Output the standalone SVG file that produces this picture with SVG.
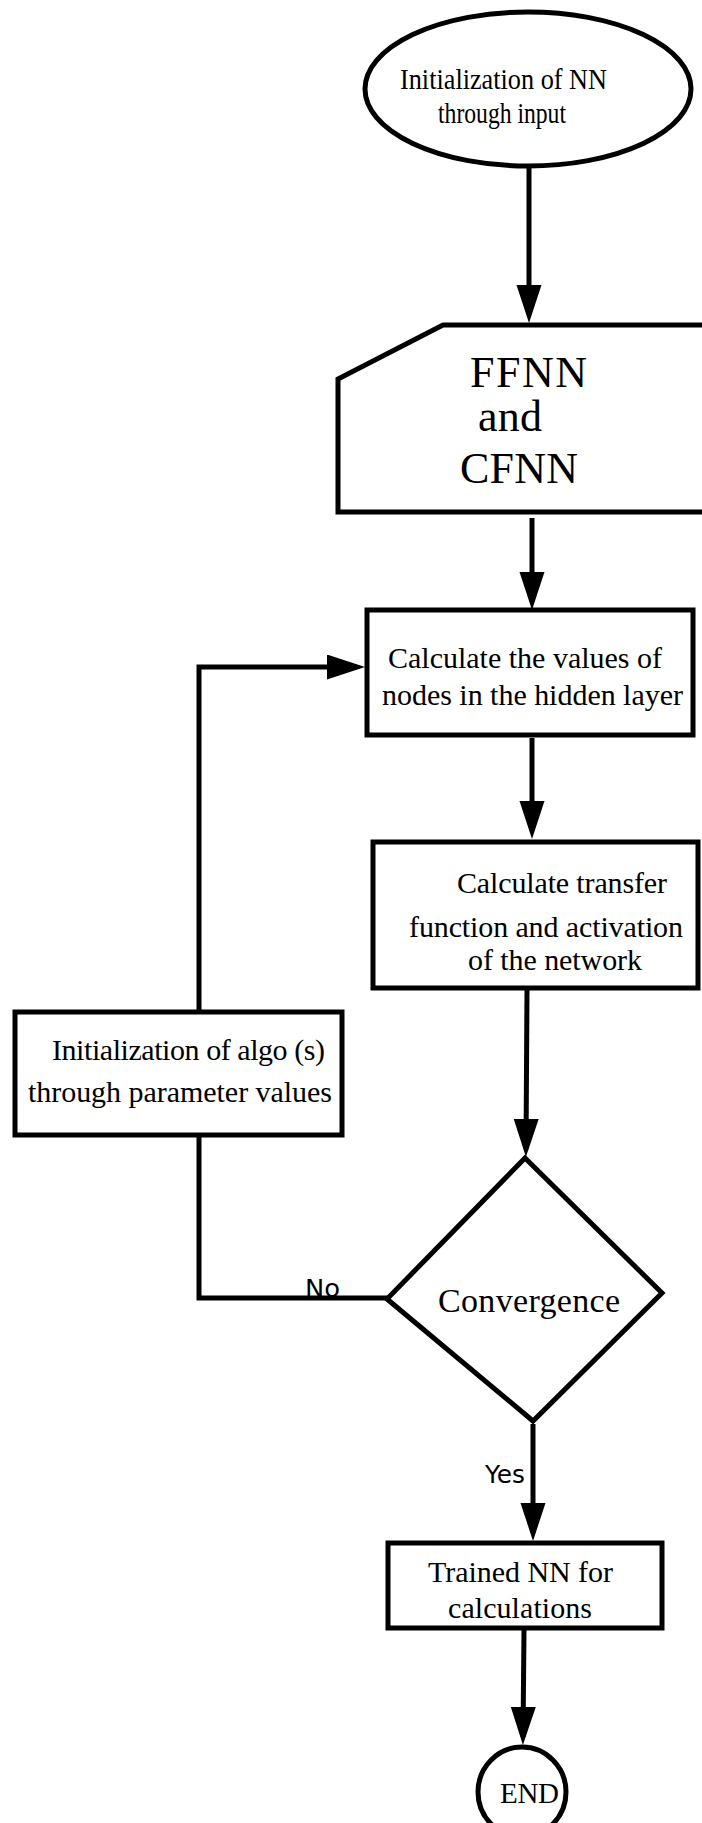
<svg xmlns="http://www.w3.org/2000/svg" width="702" height="1823" viewBox="0 0 702 1823">
<style>
.shape{fill:#fff;stroke:#000;stroke-width:5;stroke-linejoin:miter}
.conn{fill:none;stroke:#000;stroke-width:5}
.t{font-family:"Liberation Serif","Times New Roman",serif;font-size:30px;fill:#000}
.lbl{font-family:"DejaVu Sans","Liberation Sans",sans-serif;font-size:24px;fill:#000}
</style>
<defs>
<marker id="ah" markerUnits="userSpaceOnUse" markerWidth="40" markerHeight="26" refX="30" refY="12.5" orient="auto">
<path d="M0,0 L38,12.5 L0,25 z" fill="#000"/>
</marker>
</defs>
<rect width="702" height="1823" fill="#fff"/>

<g id="n-start">
<ellipse class="shape" cx="528" cy="89" rx="163" ry="77"/>
<text class="t" x="400" y="89" textLength="207" lengthAdjust="spacingAndGlyphs">Initialization of NN</text>
<text class="t" x="438" y="123" textLength="128" lengthAdjust="spacingAndGlyphs">through input</text>
</g>

<g id="n-ffnn">
<path class="shape" d="M710,325 L443,325 L338,379 L338,512 L710,512"/>
<text class="t" x="470" y="387" style="font-size:44px" textLength="117">FFNN</text>
<text class="t" x="478" y="431" style="font-size:44px" textLength="64">and</text>
<text class="t" x="460" y="483" style="font-size:44px" textLength="118">CFNN</text>
</g>

<g id="n-hidden">
<rect class="shape" x="367" y="610" width="326" height="125"/>
<text class="t" x="388" y="668" textLength="274">Calculate the values of</text>
<text class="t" x="382" y="705" textLength="301">nodes in the hidden layer</text>
</g>

<g id="n-transfer">
<rect class="shape" x="373" y="842" width="325" height="146"/>
<text class="t" x="457" y="893" textLength="210">Calculate transfer</text>
<text class="t" x="409" y="937" textLength="274">function and activation</text>
<text class="t" x="468" y="970" textLength="174">of the network</text>
</g>

<g id="n-algo">
<rect class="shape" x="15" y="1012" width="327" height="123"/>
<text class="t" x="52" y="1060" textLength="273">Initialization of algo (s)</text>
<text class="t" x="28" y="1102" textLength="304">through parameter values</text>
</g>

<g id="n-conv">
<polygon class="shape" points="525,1158 662,1293 533,1421 387,1299"/>
<text class="t" x="438" y="1312" style="font-size:34px" textLength="182">Convergence</text>
</g>

<g id="n-trained">
<rect class="shape" x="388" y="1543" width="274" height="85"/>
<text class="t" x="428" y="1582" textLength="185">Trained NN for</text>
<text class="t" x="448" y="1618" textLength="144">calculations</text>
</g>

<g id="n-end">
<ellipse class="shape" cx="522" cy="1792" rx="44" ry="45"/>
<text class="t" x="500" y="1803" style="font-size:29px" textLength="59">END</text>
</g>

<g id="connectors">
<path class="conn" d="M529,168 L529,315" marker-end="url(#ah)"/>
<path class="conn" d="M532,518 L532,602" marker-end="url(#ah)"/>
<path class="conn" d="M532,738 L532,831" marker-end="url(#ah)"/>
<path class="conn" d="M527,990 L526,1149" marker-end="url(#ah)"/>
<path class="conn" d="M533,1424 L533,1533" marker-end="url(#ah)"/>
<path class="conn" d="M524,1630 L523,1737" marker-end="url(#ah)"/>
<path class="conn" d="M199,1010 L199,667 L357,667" marker-end="url(#ah)"/>
<path class="conn" d="M199,1137 L199,1298 L388,1298"/>
<text class="lbl" x="305" y="1297" textLength="35" lengthAdjust="spacingAndGlyphs">No</text>
<text class="lbl" x="485" y="1483" textLength="40" lengthAdjust="spacingAndGlyphs">Yes</text>
</g>
</svg>
